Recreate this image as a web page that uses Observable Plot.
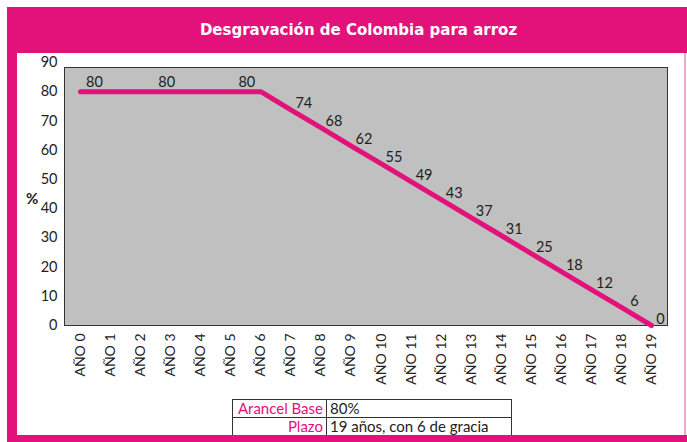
<!DOCTYPE html>
<html><head><meta charset="utf-8">
<script src="https://cdn.jsdelivr.net/npm/d3@7"></script>
<script src="https://cdn.jsdelivr.net/npm/@observablehq/plot@0.6"></script>
<style>
body{margin:0;background:#fff;}
#wrap{position:relative;width:687px;height:442px;overflow:hidden;font-family:Lato,sans-serif;}
#titlebar{position:absolute;left:7px;top:7px;width:680px;height:46px;background:#e2127a;}
#title{position:absolute;left:0;width:717px;top:21px;text-align:center;color:#fff;font:bold 15px "DejaVu Sans",sans-serif;}
#leftbar{position:absolute;left:7px;top:7px;width:10px;height:435px;background:#e2127a;}
#bottombar{position:absolute;left:7px;top:435px;width:680px;height:7px;background:#e2127a;}
#rightline{position:absolute;left:684px;top:53px;width:2px;height:382px;background:#f3a6cb;}
#chart{position:absolute;left:0;top:53px;}
#pct{position:absolute;left:26px;top:189px;font:bold 15px Lato,sans-serif;color:#222;}
table{position:absolute;left:232px;top:399px;border-collapse:collapse;font:15px Lato,sans-serif;}
td{border:1px solid #333;padding:0 3px;height:17px;line-height:17px;white-space:nowrap;}
td.k{width:87px;text-align:right;color:#e2127a;}
td.v{width:178px;text-align:left;color:#222;}
</style></head>
<body>
<div id="wrap">
  <div id="titlebar"></div>
  <div id="leftbar"></div>
  <div id="rightline"></div>
  <div id="title">Desgravación de Colombia para arroz</div>
  <div id="chart"></div>
  <div id="pct">%</div>
  <table>
    <tr><td class="k" id="k0"></td><td class="v" id="v0"></td></tr>
    <tr><td class="k" id="k1"></td><td class="v" id="v1"></td></tr>
  </table>
  <div id="bottombar"></div>
</div>
<script>
const years = d3.range(20);
const yearLabels = years.map(d => "AÑO " + d);
const values = [80,80,80,80,80,80,80,73.8,67.7,61.5,55.4,49.2,43.1,36.9,30.8,24.6,18.4,12.3,6.2,0];
const labeledYears = [0,3,6,7,8,9,10,11,12,13,14,15,16,17,18,19];
const yTicks = [0,10,20,30,40,50,60,70,80,90];
const tableKeys = ["Arancel Base", "Plazo"];
const tableValues = ["80%", "19 años, con 6 de gracia"];

tableKeys.forEach((k,i)=>{document.getElementById("k"+i).textContent=k;});
tableValues.forEach((v,i)=>{document.getElementById("v"+i).textContent=v;});

const data = years.map((y,i)=>({year:y, value:values[i]}));
const labeled = data.filter(d => labeledYears.includes(d.year));
const pink = "#e2127a";
const txt = {x:"year", y:"value", text:d=>String(Math.round(d.value)), fill:"#222", fontSize:14.5, fontFamily:"Lato"};

const chart = Plot.plot({
  width: 687, height: 345,
  marginLeft: 64, marginRight: 20, marginTop: 9, marginBottom: 73,
  x: {domain: [-0.532, 19.532]},
  y: {domain: [0, 90]},
  style: {fontFamily: "Lato, sans-serif", color: "#222", background: "transparent"},
  marks: [
    Plot.frame({fill: "#c0c0c0", stroke: "#333", insetTop: 5}),
    Plot.axisX({ticks: years, tickFormat: i => yearLabels[i], tickRotate: -90, tickSize: 0, tickPadding: 8, fontSize: 14, label: null}),
    Plot.axisY({ticks: yTicks, tickSize: 0, tickPadding: 7, fontSize: 14.5, label: null}),
    Plot.line(data, {x: "year", y: "value", stroke: pink, strokeWidth: 5}),
    Plot.text(labeled.filter(d=>d.year===0), {...txt, dx: 14, dy: -9}),
    Plot.text(labeled.filter(d=>d.year===3), {...txt, dx: -4, dy: -9}),
    Plot.text(labeled.filter(d=>d.year===6), {...txt, dx: -14, dy: -9}),
    Plot.text(labeled.filter(d=>d.year>6 && d.year<19), {...txt, dx: 13, dy: -6}),
    Plot.text(labeled.filter(d=>d.year===19), {...txt, dx: 9, dy: -6})
  ]
});
document.getElementById("chart").appendChild(chart);
</script>
</body></html>
